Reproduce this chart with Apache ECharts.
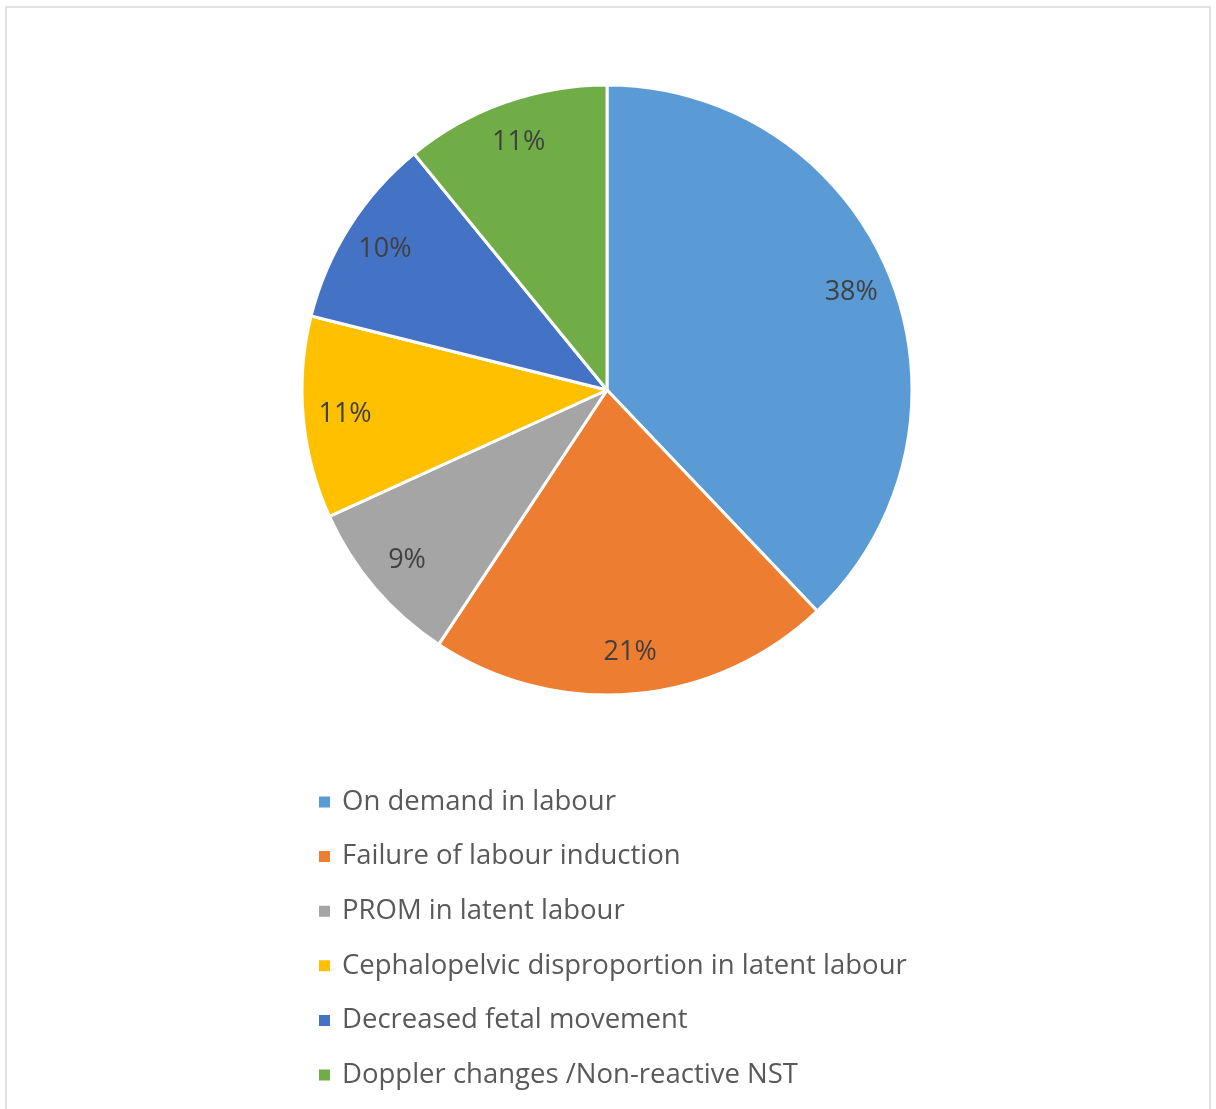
<!DOCTYPE html>
<html>
<head>
<meta charset="utf-8">
<script src="https://cdn.jsdelivr.net/npm/echarts@6/dist/echarts.min.js"></script>
<style>
html,body{margin:0;padding:0;background:#fff;}
#chart{width:1216px;height:1109px;}
</style>
</head>
<body>
<div id="chart"></div>
<script>
const categories = [
  "On demand in labour",
  "Failure of labour induction",
  "PROM in latent labour",
  "Cephalopelvic disproportion in latent labour",
  "Decreased fetal movement",
  "Doppler changes /Non-reactive NST"
];
const values = [37.9, 21.4, 8.9, 10.7, 10.2, 10.9];
const colors = ["#5B9BD5", "#ED7D31", "#A5A5A5", "#FFC000", "#4472C4", "#70AD47"];

const pieData = categories.map((c, i) => ({ name: c, value: values[i], itemStyle: { color: colors[i] } }));
const labelData = categories.map((c, i) => ({ name: c, value: values[i] }));

const chart = echarts.init(document.getElementById('chart'), null, { renderer: 'canvas' });
chart.setOption({
  animation: false,
  backgroundColor: '#fff',
  graphic: [{
    type: 'rect',
    shape: { x: 6, y: 7, width: 1204, height: 1120 },
    style: { fill: 'none', stroke: '#d9d9d9', lineWidth: 1.5 },
    silent: true,
    z: -10
  }],
  legend: {
    orient: 'vertical',
    left: 312,
    top: 782,
    itemWidth: 13,
    itemHeight: 13,
    itemGap: 24.6,
    icon: 'rect',
    data: categories,
    textStyle: { fontFamily: 'Open Sans', fontSize: 27.5, color: '#595959', lineHeight: 30, padding: [0, 0, 0, 6] }
  },
  series: [{
    type: 'pie',
    center: [607, 390],
    radius: [0, 305],
    startAngle: 90,
    clockwise: true,
    silent: true,
    label: { show: false },
    labelLine: { show: false },
    itemStyle: { borderColor: '#fff', borderWidth: 3 },
    data: pieData
  }, {
    type: 'pie',
    center: [607, 390],
    radius: [215, 305],
    startAngle: 90,
    clockwise: true,
    silent: true,
    itemStyle: { color: 'rgba(0,0,0,0)', borderWidth: 0 },
    label: {
      show: true,
      position: 'inside',
      fontFamily: 'Open Sans',
      fontSize: 27,
      color: '#404040',
      formatter: p => Math.round(p.percent) + '%'
    },
    labelLine: { show: false },
    data: labelData
  }]
});
</script>
</body>
</html>
